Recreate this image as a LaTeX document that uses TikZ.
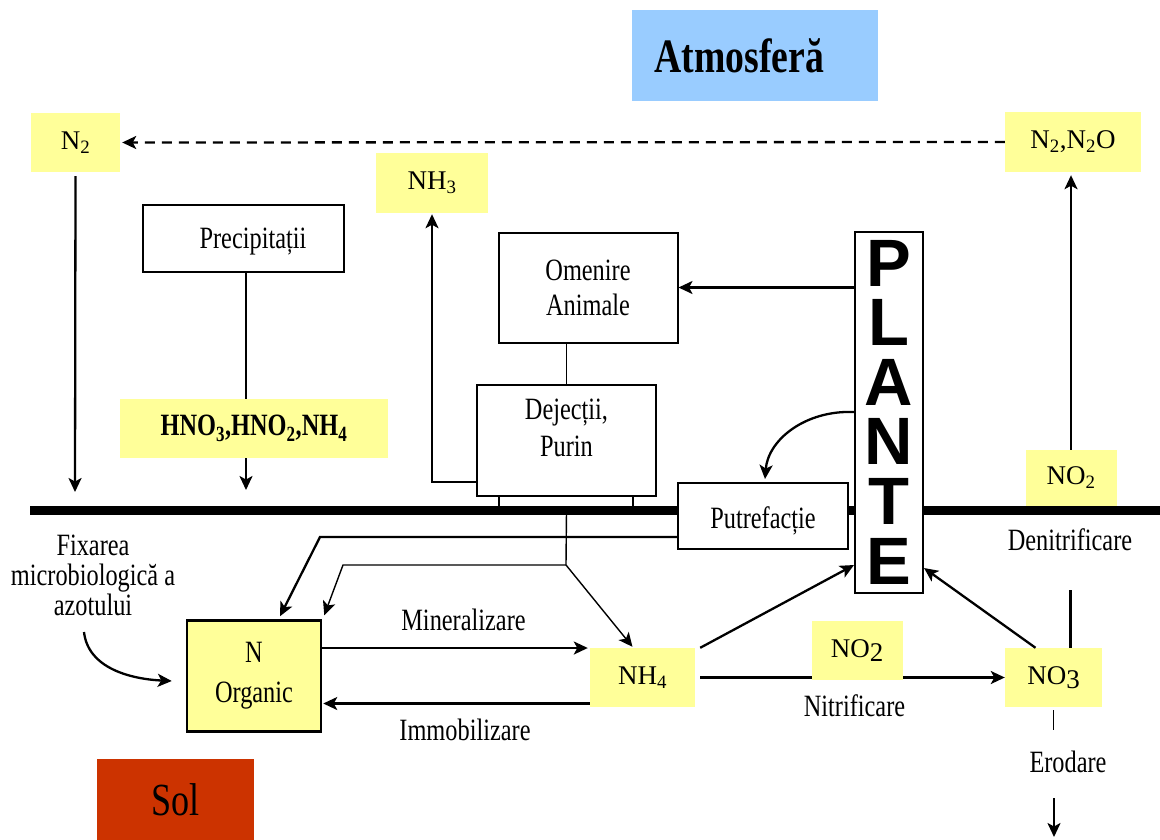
\documentclass[tikz,border=0pt]{standalone}
\usepackage{fontspec}
\setmainfont{Liberation Serif}[FakeStretch=0.785]
\newfontfamily\chemfont{Liberation Serif}
\newfontfamily\plfont{Liberation Sans}
\usetikzlibrary{arrows.meta,backgrounds}
\definecolor{yfill}{HTML}{FFFF99}
\definecolor{skyb}{HTML}{99CCFF}
\definecolor{solred}{HTML}{CC3300}
\begin{document}
\begin{tikzpicture}[x=1pt,y=-1pt,
  txt/.style={font=\fontsize{31}{38}\selectfont, inner sep=0pt},
  chem/.style={font=\chemfont\fontsize{27}{32}\selectfont},
  yb/.style={fill=yfill, draw=none, inner sep=0pt},
  wbox/.style={fill=white, draw=black, line width=2pt, inner sep=0pt},
  conn/.style={line width=2.3pt},
  thinconn/.style={line width=1.4pt},
  tip/.style={-{Stealth[length=14pt,width=13pt,inset=3.5pt]}},
  arr/.style={conn, tip},
  arrthin/.style={thinconn, tip},
]
\useasboundingbox (0,0) rectangle (1160,839);

% boxes
\node[fill=skyb, minimum width=246pt, minimum height=91pt, inner sep=0pt, font=\bfseries\fontsize{48}{56}\selectfont] (atm) at (755,55.5) {Atmosferă\hspace*{31pt}};
\node[yb, chem, minimum width=89pt, minimum height=59pt] (n2) at (75.5,142.5) {N\textsubscript{2}};
\node[yb, chem, minimum width=136pt, minimum height=60pt] (n2o) at (1073,142) {N\textsubscript{2},N\textsubscript{2}O};
\node[yb, chem, minimum width=112pt, minimum height=60pt] (nh3) at (432,183) {NH\textsubscript{3}};
\node[wbox, txt, minimum width=201pt, minimum height=67pt, text height=27pt] (prec) at (243.5,238) {\hspace*{19pt}Precipitații};
\node[yb, font=\bfseries\fontsize{31}{38}\selectfont, minimum width=268pt, minimum height=59pt] (hno) at (254,428.5) {HNO\textsubscript{3},HNO\textsubscript{2},NH\textsubscript{4}};
\node[wbox, align=center, font=\fontsize{31}{35}\selectfont, minimum width=179pt, minimum height=110pt] (om) at (588,287.5) {Omenire\\Animale};
\node[wbox, align=center, font=\fontsize{31}{37}\selectfont, minimum width=179pt, minimum height=111pt, text depth=24pt] (dej) at (566.5,440) {Dejecții,\\Purin};
\node[wbox, txt, minimum width=170pt, minimum height=66pt, text height=31pt] (put) at (763,516) {Putrefacție};
\node[wbox, align=center, font=\plfont\bfseries\fontsize{67}{59.6}\selectfont, minimum width=68pt, minimum height=361pt] (pl) at (889,412) {P\\L\\A\\N\\T\\E};
\node[draw=black, fill=yfill, line width=2.5pt, inner sep=0pt, align=center, font=\fontsize{31}{40}\selectfont, minimum width=134pt, minimum height=111pt] (norg) at (254,676) {N\\Organic};
\node[yb, chem, minimum width=105pt, minimum height=59pt] (nh4) at (642.5,677.5) {NH\textsubscript{4}};
\node[yb, chem, minimum width=91pt, minimum height=59pt] (no2) at (857,650.5) {NO\raisebox{-4pt}{2}};
\node[yb, chem, minimum width=97pt, minimum height=59pt] (no3) at (1053.5,677.5) {NO\raisebox{-4pt}{3}};
\node[yb, chem, minimum width=91pt, minimum height=56pt] (no2r) at (1071,478) {NO\textsubscript{2}};
\node[fill=solred, inner sep=0pt, font=\fontsize{46}{52}\selectfont, minimum width=157pt, minimum height=82pt] (sol) at (175.5,800) {Sol};

% free texts
\node[txt, align=center, font=\fontsize{31}{30}\selectfont] (fix) at (93,575) {Fixarea\\microbiologică a\\azotului};
\node[txt] (mine) at (463.5,620) {Mineralizare};
\node[txt] (imob) at (465,730) {Immobilizare};
\node[txt] (nitr) at (854.5,706) {Nitrificare};
\node[txt] (denit) at (1070,540) {Denitrificare};
\node[txt] (erod) at (1068,762) {Erodare};

% background: soil line and nitrification arrow
\begin{scope}[on background layer]
  \draw[line width=9pt] (30,510) -- (1160,510);
  \draw[arr] ([xshift=5pt]nh4.east) -- (no3.west);
\end{scope}

% connectors
\draw[arr, dash pattern=on 10pt off 7pt] (n2o.west) -- ([xshift=2pt]n2.east);
\coordinate (n2end) at (75,492);
\draw[arr] ([yshift=-4pt]n2.south) -- (n2end);
\coordinate (rainx) at (246,0);
\draw[thinconn] (prec.south -| rainx) -- (hno.north -| rainx);
\coordinate (rainend) at (246,490);
\draw[arr] (hno.south -| rainx) -- (rainend);
\draw[arr] ([yshift=-42pt]dej.west) -| ([yshift=-1pt]nh3.south);
\draw[thinconn] (dej.north) -- (dej.north |- om.south);
\draw[arr] (pl.west |- om.east) -- (om.east);
\draw[arr] (pl.west) .. controls (805,410) and (768,440) .. ([xshift=2pt,yshift=3pt]put.north);
\draw[thinconn] ([xshift=-67.5pt]dej.south) -- ++(0,11);
\draw[thinconn] ([xshift=66.5pt]dej.south) -- ++(0,11);
\draw[arr] ([yshift=-21pt]put.west) -- (320,537) -- ([xshift=26pt,yshift=3pt]norg.north);
\coordinate (dj) at (566,565);
\draw[thinconn] ([yshift=-14pt]dej.south) -- (dj);
\draw[arrthin] (dj) -- (343,565) -- ([xshift=2pt,yshift=4pt]norg.north east);
\draw[arrthin] (dj) -- ([xshift=-10pt,yshift=1pt]nh4.north);
\coordinate (mA) at ([yshift=28pt]norg.east);
\draw[arr, shorten >=2pt] (mA) -- (mA -| nh4.west);
\coordinate (iA) at ([yshift=-26pt]nh4.west);
\draw[arr, shorten >=1pt] (iA) -- (iA -| norg.east);
\coordinate (fixs) at (84,632);
\draw[arr] (fixs) .. controls (88,668) and (130,679) .. ([xshift=-14pt,yshift=-5pt]norg.west);
\draw[arr] ([xshift=5pt]nh4.north east) -- ([yshift=-153pt]pl.west);
\draw[arr] ([xshift=-18pt]no3.north) -- ([yshift=-156pt]pl.east);
\draw[conn] ([xshift=17pt]no3.north) -- ++(0,-58);
\coordinate (n2ob) at ([yshift=-3pt]n2o.south);
\draw[arr] (no2r.north) -- (no2r.north |- n2ob);
\draw[thinconn] ([yshift=-3pt]no3.south) -- ++(0,20);
\coordinate (erst) at (1054,798);
\coordinate (erend) at (1054,837);
\draw[arr] (erst) -- (erend);
\end{tikzpicture}
\end{document}
